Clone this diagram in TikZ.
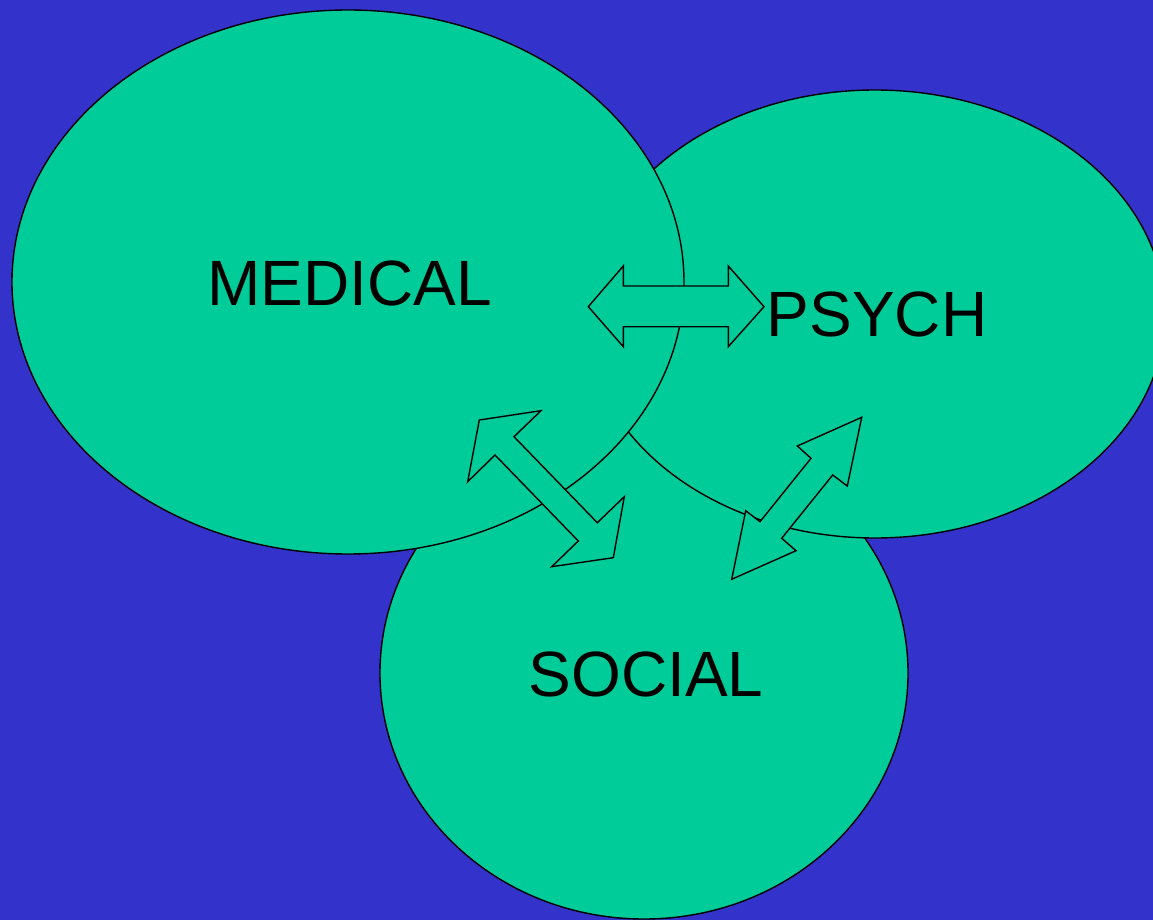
\documentclass[tikz,border=0pt]{standalone}
\usepackage{fontspec}
\setmainfont{Liberation Sans}
\definecolor{bgblue}{HTML}{3333CC}
\definecolor{leaf}{HTML}{00CC99}
\begin{document}
\begin{tikzpicture}[x=1pt,y=-1pt,
  blob/.style={draw=black,line width=1.4pt,fill=leaf},
  arr/.style={draw=black,line width=1.4pt,fill=leaf,line join=miter},
  lbl/.style={anchor=base,inner sep=0pt,font=\fontsize{64}{76}\selectfont}]
\fill[bgblue] (0,0) rectangle (1153,920);
\useasboundingbox (0,0) rectangle (1153,920);
% ellipses (bottom to top)
\draw[blob] (644,673) ellipse [x radius=264, y radius=246];
\draw[blob] (875,314) ellipse [x radius=290, y radius=224];
\draw[blob] (348,282) ellipse [x radius=336, y radius=272];
% labels
\node[lbl] (med) at (349.5,305.7) {MEDICAL};
\node[lbl] (psy) at (877,336) {PSYCH};
\node[lbl] (soc) at (646,696.7) {SOCIAL};
% horizontal double arrow
\draw[arr] (588.3,306.7) -- (623.3,266) -- (623.3,286) -- (728.3,286) -- (728.3,266)
  -- (764,306.7) -- (728.3,346.7) -- (728.3,326.7) -- (623.3,326.7) -- (623.3,346.7) -- cycle;
% medical-social double arrow
\draw[arr] (479.3,420) -- (541,410.7) -- (514,436.7) -- (597.3,522.7) -- (624.3,496.7)
  -- (613.3,557.7) -- (551.7,566.7) -- (578.3,541) -- (495,455) -- (467.7,481.7) -- cycle;
% psych-social double arrow
\draw[arr] (861.7,417.3) -- (847.3,486) -- (832.7,475) -- (781.7,538.3) -- (796,550.7)
  -- (731.7,579.3) -- (745.7,510.7) -- (760,521.7) -- (811,458.3) -- (797.3,446) -- cycle;
\end{tikzpicture}
\end{document}
